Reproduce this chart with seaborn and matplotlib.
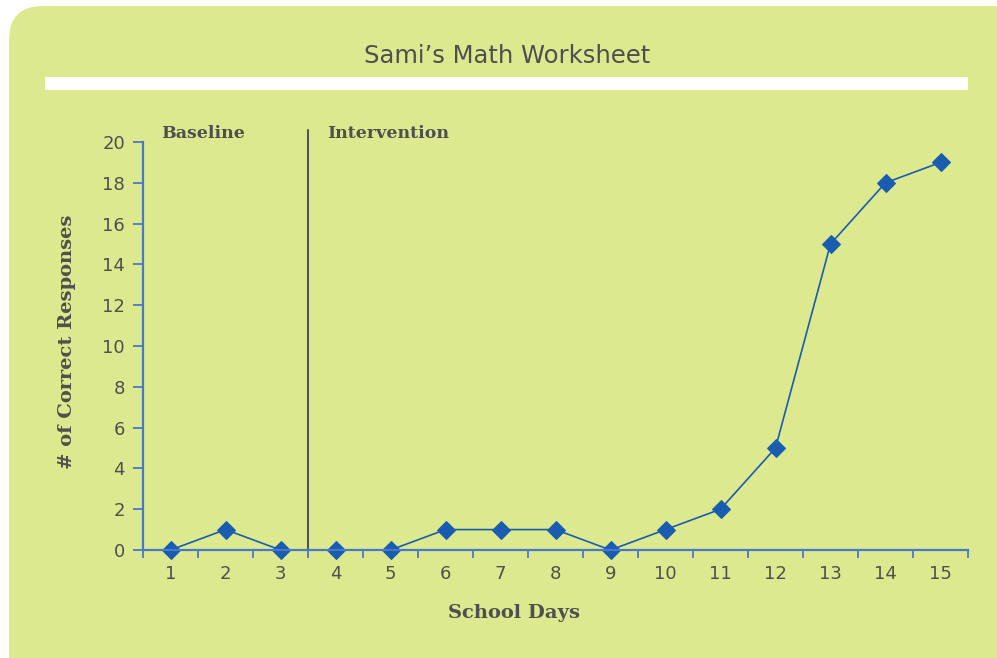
import matplotlib
matplotlib.use('Agg')
import matplotlib.pyplot as plt
import seaborn as sns
from matplotlib.patches import FancyBboxPatch, Rectangle

# data
days = list(range(1, 16))
correct = [0, 1, 0, 0, 0, 1, 1, 1, 0, 1, 2, 5, 15, 18, 19]
phase_change = 3.5
phase_labels = ['Baseline', 'Intervention']
phase_label_x = [0.83, 3.85]
y_ticks = [0, 2, 4, 6, 8, 10, 12, 14, 16, 18, 20]

PANEL = '#dce98e'
TEXT = '#4f4f4f'
AXIS_BLUE = '#4a78c8'
DATA_BLUE = '#1a5db0'

sns.set_style('white')
plt.rcParams['font.family'] = ['Liberation Sans Narrow', 'DejaVu Sans']

fig = plt.figure(figsize=(9.97, 6.58), dpi=100)
fig.patch.set_facecolor('white')

# green panel with rounded corner + white rule under the title
panel = FancyBboxPatch((0.09, -0.5), 10.5, 7.02, boxstyle='round,pad=0,rounding_size=0.34',
                       transform=fig.dpi_scale_trans, facecolor=PANEL, edgecolor='none',
                       zorder=-5)
fig.patches.append(panel)
fig.patches.append(Rectangle((0.45, 5.68), 9.23, 0.13, transform=fig.dpi_scale_trans,
                             facecolor='white', edgecolor='none', zorder=-4))
fig.text(507 / 997, 1 - 56 / 658, 'Sami\u2019s Math Worksheet', ha='center', va='center',
         fontsize=17.5, color=TEXT)

ax = fig.add_axes([143 / 997, 1 - 550 / 658, 825 / 997, 408 / 658])
ax.set_facecolor('none')

sns.lineplot(x=days, y=correct, ax=ax, color=DATA_BLUE, linewidth=1.2, marker='D',
             markersize=9, markeredgecolor=DATA_BLUE, clip_on=False)

ax.set_xlim(0.5, 15.5)
ax.set_ylim(0, 20)

# tick marks on the day boundaries, labels in the middle of each day
ax.set_xticks([d + 0.5 for d in [0] + days])
ax.set_xticklabels([])
ax.set_xticks(days, minor=True)
ax.set_xticklabels([str(d) for d in days], minor=True)
ax.tick_params(axis='x', which='major', direction='out', length=6, width=1.3,
               color=AXIS_BLUE, bottom=True)
ax.tick_params(axis='x', which='minor', length=0, pad=11, labelsize=13, labelcolor=TEXT)
ax.set_yticks(y_ticks)
ax.tick_params(axis='y', direction='out', length=7, width=1.3, color=AXIS_BLUE, left=True,
               pad=6, labelsize=13, labelcolor=TEXT)

for side in ['top', 'right']:
    ax.spines[side].set_visible(False)
for side in ['left', 'bottom']:
    ax.spines[side].set_color(AXIS_BLUE)
    ax.spines[side].set_linewidth(1.6)

# phase change line and labels
ax.axvline(phase_change, ymin=0, ymax=1.03, color='#555555', linewidth=1.5, clip_on=False)
for lbl, x in zip(phase_labels, phase_label_x):
    ax.text(x, 20.4, lbl, ha='left', va='center', fontsize=12.5, color=TEXT,
            family='DejaVu Serif', fontweight='bold', clip_on=False)

ax.set_xlabel('School Days', fontsize=14, color=TEXT, family='DejaVu Serif',
              fontweight='bold')
ax.xaxis.set_label_coords((514 - 143) / 825, (550 - 613) / 408)
ax.xaxis.label.set_va('center')
ax.set_ylabel('# of Correct Responses', fontsize=14, color=TEXT, family='DejaVu Serif',
              fontweight='bold')
ax.yaxis.set_label_coords((67 - 143) / 825, (550 - 342) / 408)
ax.yaxis.label.set_va('center')

fig.savefig('out.png', dpi=100, facecolor=fig.get_facecolor())
